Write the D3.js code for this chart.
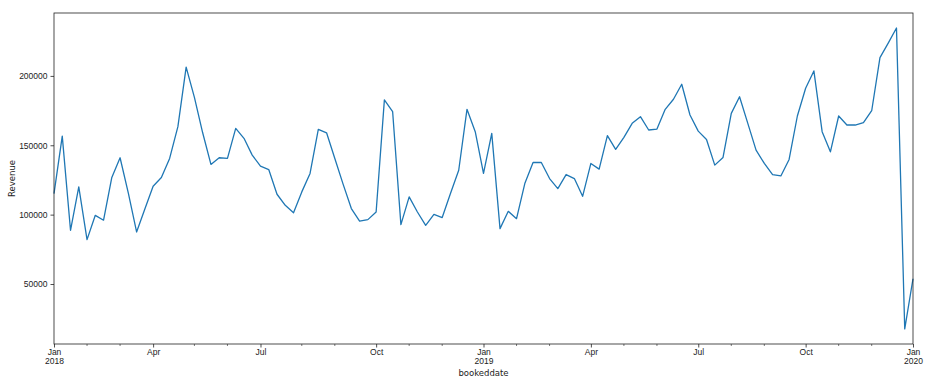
<!DOCTYPE html>
<html>
<head>
<meta charset="utf-8">
<script src="https://cdn.jsdelivr.net/npm/d3@7"></script>
<style>
  body { margin: 0; background: #fff; }
  svg { display: block; font-family: "DejaVu Sans", sans-serif; }
</style>
</head>
<body>
<div id="chart"></div>
<script>
// weekly revenue, one value per week starting Monday 2018-01-01
const firstWeek = new Date(2018, 0, 1);
const revenue = [
  115200, 156600, 88700, 120000, 82000, 99500, 96000, 126800, 141000, 115500,
  87500, 104000, 120500, 126800, 140500, 163400, 206300, 184500, 159000, 136200,
  141000, 140500, 162200, 155000, 142900, 134900, 132500, 114700, 106700, 101400,
  116400, 129700, 161500, 159000, 140500, 122000, 104400, 95400, 96400, 101900,
  182700, 174200, 92800, 112800, 101900, 92300, 100200, 97900, 115200, 132000,
  175900, 159800, 129700, 158600, 89900, 102400, 97100, 122400, 137600, 137600,
  126000, 118800, 128900, 126000, 113200, 136900, 132800, 156900, 147000, 155700,
  165800, 170600, 161000, 161700, 175900, 183200, 194000, 171800, 160200, 154200,
  135700, 141200, 173000, 185000, 165800, 146500, 136900, 128900, 127900, 139800,
  171100, 191100, 203600, 159800, 145300, 171100, 164600, 164600, 166300, 174900,
  213200, 223600, 234500, 17600, 53800
];
const yTicks = [50000, 100000, 150000, 200000];
const majorMonths = ["2018-01", "2018-04", "2018-07", "2018-10", "2019-01", "2019-04", "2019-07", "2019-10", "2020-01"];
const majorLabels = ["Jan|2018", "Apr", "Jul", "Oct", "Jan|2019", "Apr", "Jul", "Oct", "Jan|2020"];

const weeks = revenue.map((v, i) => d3.timeDay.offset(firstWeek, i * 7));
const data = weeks.map((d, i) => ({ date: d, value: revenue[i] }));

const width = 939, height = 383;
const margin = { top: 13, right: 26, bottom: 39, left: 54 };

const svg = d3.select("#chart").append("svg")
  .attr("width", width)
  .attr("height", height);

const x = d3.scaleTime()
  .domain(d3.extent(weeks))
  .range([margin.left, width - margin.right]);

// matplotlib style 5% margins
const lo = d3.min(revenue), hi = d3.max(revenue), pad = (hi - lo) * 0.05;
const y = d3.scaleLinear()
  .domain([lo - pad, hi + pad])
  .range([height - margin.bottom, margin.top]);

// month ticks snap to the week containing the 1st, like pandas period axis
const parseMonth = d3.timeParse("%Y-%m");
const snap = d => d3.timeMonday.floor(d);
const majorDates = majorMonths.map(m => snap(parseMonth(m)));
const minorDates = d3.timeMonth.range(new Date(2018, 0, 1), new Date(2020, 0, 2))
  .filter(d => d.getMonth() % 3 !== 0)
  .map(snap);

const axisColor = "#222";

// x axis
const xAxis = svg.append("g")
  .attr("transform", `translate(0,${height - margin.bottom})`)
  .call(d3.axisBottom(x).tickValues(majorDates).tickSize(3.5).tickPadding(2).tickFormat(""));
xAxis.select(".domain").remove();
xAxis.selectAll(".tick line").attr("stroke", axisColor).attr("stroke-width", 0.8);

xAxis.selectAll(".tick").append("text")
  .attr("fill", axisColor)
  .attr("font-size", "8.5px")
  .attr("text-anchor", "middle")
  .attr("y", 11)
  .each(function (d, i) {
    const parts = majorLabels[i].split("|");
    const t = d3.select(this);
    parts.forEach((p, k) => {
      t.append("tspan").attr("x", 0).attr("dy", k === 0 ? 0 : "1.1em").text(p);
    });
  });

svg.append("g")
  .attr("transform", `translate(0,${height - margin.bottom})`)
  .selectAll("line")
  .data(minorDates)
  .join("line")
  .attr("x1", d => x(d)).attr("x2", d => x(d))
  .attr("y1", 0).attr("y2", 2)
  .attr("stroke", axisColor)
  .attr("stroke-width", 0.6);

// y axis
const yAxis = svg.append("g")
  .attr("transform", `translate(${margin.left},0)`)
  .call(d3.axisLeft(y).tickValues(yTicks).tickSize(3.5).tickPadding(3).tickFormat(d3.format("d")));
yAxis.select(".domain").remove();
yAxis.selectAll(".tick line").attr("stroke", axisColor).attr("stroke-width", 0.8);
yAxis.selectAll(".tick text").attr("fill", axisColor).attr("font-size", "8.5px");

// line
const line = d3.line()
  .x(d => x(d.date))
  .y(d => y(d.value));

svg.append("path")
  .datum(data)
  .attr("fill", "none")
  .attr("stroke", "#1f77b4")
  .attr("stroke-width", 1.3)
  .attr("stroke-linejoin", "round")
  .attr("d", line);

// frame
svg.append("rect")
  .attr("x", margin.left)
  .attr("y", margin.top)
  .attr("width", width - margin.left - margin.right)
  .attr("height", height - margin.top - margin.bottom)
  .attr("fill", "none")
  .attr("stroke", axisColor)
  .attr("stroke-width", 0.8);

// axis labels
svg.append("text")
  .attr("x", (margin.left + width - margin.right) / 2)
  .attr("y", 376)
  .attr("text-anchor", "middle")
  .attr("font-size", "8.5px")
  .attr("fill", axisColor)
  .text("bookeddate");

svg.append("text")
  .attr("transform", `translate(15,${(margin.top + height - margin.bottom) / 2}) rotate(-90)`)
  .attr("text-anchor", "middle")
  .attr("font-size", "8.5px")
  .attr("fill", axisColor)
  .text("Revenue");
</script>
</body>
</html>
